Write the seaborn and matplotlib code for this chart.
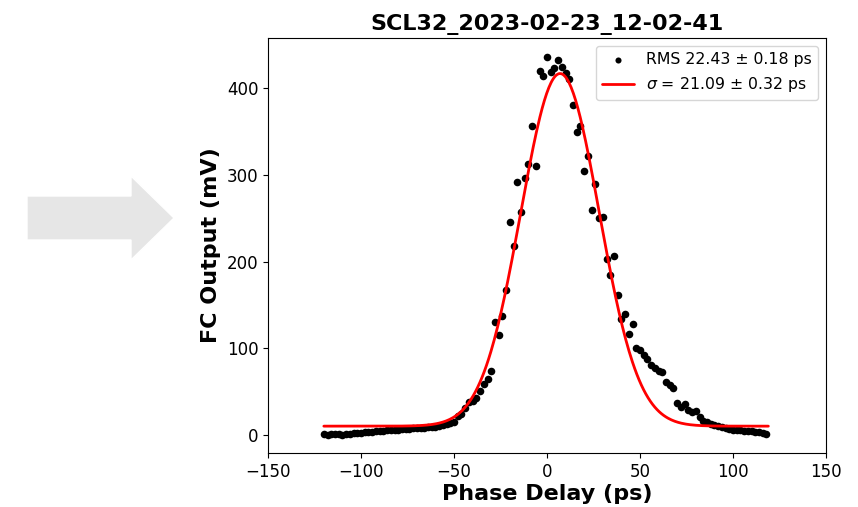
import numpy as np
import pandas as pd
import matplotlib
matplotlib.use("Agg")
import matplotlib.pyplot as plt
from matplotlib.patches import Polygon
import seaborn as sns

# Measured points (phase delay in ps, FC output in mV)
delay_ps = [
    -120, -118, -116, -114, -112, -110, -108, -106, -104, -102,
    -100, -98, -96, -94, -92, -90, -88, -86, -84, -82,
    -80, -78, -76, -74, -72, -70, -68, -66, -64, -62,
    -60, -58, -56, -54, -52, -50, -48, -46, -44, -42,
    -40, -38, -36, -34, -32, -30, -28, -26, -24, -22,
    -20, -18, -16, -14, -12, -10, -8, -6, -4, -2,
    0, 2, 4, 6, 8, 10, 12, 14, 16, 18,
    20, 22, 24, 26, 28, 30, 32, 34, 36, 38,
    40, 42, 44, 46, 48, 50, 52, 54, 56, 58,
    60, 62, 64, 66, 68, 70, 72, 74, 76, 78,
    80, 82, 84, 86, 88, 90, 92, 94, 96, 98,
    100, 102, 104, 106, 108, 110, 112, 114, 116, 118,
]
fc_output_mv = [
    0.5, 0.0, 0.5, 0.5, 0.8, 0.3, 1.0, 1.5, 2.0, 2.5,
    2.2, 3.0, 3.2, 3.0, 4.0, 4.2, 4.8, 5.0, 5.5, 6.0,
    5.8, 6.5, 6.8, 7.2, 7.5, 7.8, 8.0, 8.4, 8.8, 8.5,
    9.5, 10.5, 11.0, 12.5, 14.0, 15.0, 22.0, 24.0, 31.0, 38.0,
    39.0, 43.0, 51.0, 59.0, 64.0, 74.0, 130.0, 115.0, 137.0, 167.0,
    246.0, 218.0, 292.0, 257.0, 296.0, 313.0, 356.0, 310.0, 420.0, 414.0,
    436.0, 419.0, 423.0, 433.0, 425.0, 418.0, 411.0, 381.0, 350.0, 357.0,
    305.0, 322.0, 260.0, 289.0, 250.0, 251.0, 203.0, 184.0, 206.0, 161.0,
    134.0, 139.0, 116.0, 128.0, 100.0, 98.0, 92.0, 88.0, 81.0, 77.0,
    74.0, 72.0, 61.5, 58.0, 54.0, 37.0, 32.0, 36.0, 29.0, 26.0,
    28.0, 20.0, 16.0, 15.0, 13.0, 11.0, 10.0, 9.0, 8.0, 7.0,
    6.0, 5.5, 5.0, 4.5, 4.5, 4.0, 3.5, 3.0, 2.5, 1.5,
]

# Gaussian fit parameters
fit_amp = 407.0
fit_mu = 7.0
fit_sigma = 21.09
fit_offset = 10.0

title = "SCL32_2023-02-23_12-02-41"
rms_label = "RMS 22.43 ± 0.18 ps"
fit_label = r"$\sigma$ = 21.09 ± 0.32 ps"

data = pd.DataFrame({"delay": delay_ps, "fc": fc_output_mv})
x_fit = np.linspace(min(delay_ps), max(delay_ps) + 1, 400)
fit = pd.DataFrame({
    "delay": x_fit,
    "fc": fit_offset + fit_amp * np.exp(-(x_fit - fit_mu) ** 2 / (2 * fit_sigma ** 2)),
})

sns.set_style("ticks", rc={"text.color": "black", "axes.labelcolor": "black",
                           "xtick.color": "black", "ytick.color": "black",
                           "axes.edgecolor": "black"})
plt.rcParams["font.family"] = ["DejaVu Sans"]

fig = plt.figure(figsize=(8.58, 5.07), dpi=100)
ax = fig.add_axes([0.3124, 0.1065, 0.6503, 0.8185])

sns.scatterplot(data=data, x="delay", y="fc", ax=ax, color="black", s=30,
                edgecolor="black", linewidth=0, label=rms_label, zorder=2)
sns.lineplot(data=fit, x="delay", y="fc", ax=ax, color="red", linewidth=2,
             label=fit_label, zorder=3)

ax.set_xlim(-150, 150)
ax.set_ylim(-21, 458)
ax.set_xticks([-150, -100, -50, 0, 50, 100, 150])
ax.set_yticks([0, 100, 200, 300, 400])
ax.tick_params(labelsize=12)
ax.set_xlabel("Phase Delay (ps)", fontsize=16, fontweight="bold", labelpad=2.5)
ax.set_ylabel("FC Output (mV)", fontsize=16, fontweight="bold")
ax.set_title(title, fontsize=16, fontweight="bold")
ax.legend(loc="upper right", fontsize=11.3, markerscale=0.8)

# grey arrow on the left side
W, H = 858, 507
pts = [(27, 196), (131, 196), (131, 176), (174, 218), (131, 260), (131, 240), (27, 240)]
arrow = Polygon([(px / W, 1 - py / H) for px, py in pts], closed=True,
                transform=fig.transFigure, facecolor="#e6e6e6",
                edgecolor="white", linewidth=1)
fig.patches.append(arrow)

fig.savefig("out.png", dpi=100)
